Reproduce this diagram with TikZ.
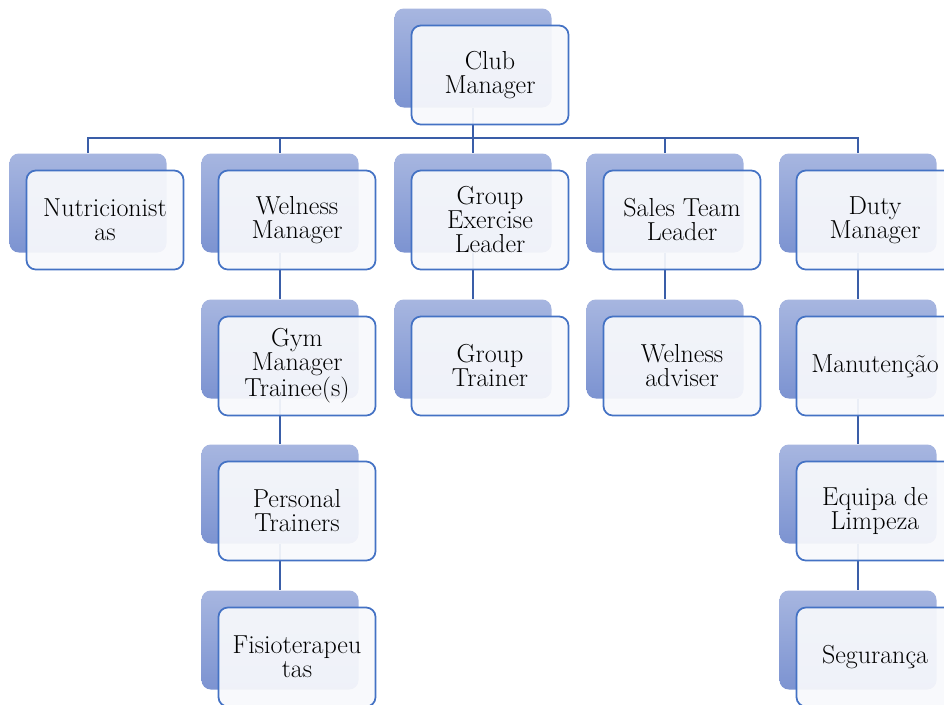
\documentclass[tikz,border=0pt]{standalone}
\usetikzlibrary{backgrounds}
\definecolor{backtop}{RGB}{167,182,224}
\definecolor{backbot}{RGB}{124,147,209}
\definecolor{frontline}{RGB}{68,114,196}
\definecolor{frontfill}{RGB}{248,249,252}
\definecolor{connline}{RGB}{58,94,168}

\begin{document}
\begin{tikzpicture}[x=0.75pt,y=-0.75pt,
  back/.style={rectangle, rounded corners=7pt, minimum width=117.75pt, minimum height=74.25pt, inner sep=0pt, top color=backtop, bottom color=backbot},
  front/.style={rectangle, rounded corners=7pt, minimum width=117.75pt, minimum height=74.25pt, inner sep=0pt, draw=frontline, line width=1.3pt, fill=frontfill, fill opacity=0.93, text opacity=1, align=center, font=\fontsize{19.5}{18}\selectfont},
  conn/.style={draw=connline, line width=1.7pt}]
\useasboundingbox (0,0) rectangle (944,704);

\node[back] (clubB) at (473,58) {};
\node[front] (club) at (490,75) {Club\\Manager};

\node[back] (nutB) at (88,203) {};
\node[front] (nut) at (105,220) {Nutricionist\\as};
\node[back] (welB) at (280,203) {};
\node[front] (wel) at (297,220) {Welness\\Manager};
\node[back] (grpB) at (473,203) {};
\node[front] (grp) at (490,220) {Group\\Exercise\\Leader};
\node[back] (salB) at (665,203) {};
\node[front] (sal) at (682,220) {Sales Team\\Leader};
\node[back] (dutB) at (858,203) {};
\node[front] (dut) at (875,220) {Duty\\Manager};

\node[back] (gymB) at (280,349) {};
\node[front] (gym) at (297,366) {Gym\\Manager\\Trainee(s)};
\node[back] (gtrB) at (473,349) {};
\node[front] (gtr) at (490,366) {Group\\Trainer};
\node[back] (advB) at (665,349) {};
\node[front] (adv) at (682,366) {Welness\\adviser};
\node[back] (manB) at (858,349) {};
\node[front] (man) at (875,366) {Manuten\c{c}\~ao};

\node[back] (ptrB) at (280,494) {};
\node[front] (ptr) at (297,511) {Personal\\Trainers};
\node[back] (limB) at (858,494) {};
\node[front] (lim) at (875,511) {Equipa de\\Limpeza};

\node[back] (fisB) at (280,640) {};
\node[front] (fis) at (297,657) {Fisioterapeu\\tas};
\node[back] (segB) at (858,640) {};
\node[front] (seg) at (875,657) {Seguran\c{c}a};

\begin{scope}[on background layer]
\draw[conn] (nutB.north) -- ++(0,-15) -| (clubB.south);
\draw[conn] (welB.north) -- ++(0,-15) -| (clubB.south);
\draw[conn] (grpB.north) -- (clubB.south);
\draw[conn] (salB.north) -- ++(0,-15) -| (clubB.south);
\draw[conn] (dutB.north) -- ++(0,-15) -| (clubB.south);

\draw[conn] (welB.south) -- (gymB.north);
\draw[conn] (gymB.south) -- (ptrB.north);
\draw[conn] (ptrB.south) -- (fisB.north);
\draw[conn] (grpB.south) -- (gtrB.north);
\draw[conn] (salB.south) -- (advB.north);
\draw[conn] (dutB.south) -- (manB.north);
\draw[conn] (manB.south) -- (limB.north);
\draw[conn] (limB.south) -- (segB.north);
\end{scope}
\end{tikzpicture}
\end{document}
